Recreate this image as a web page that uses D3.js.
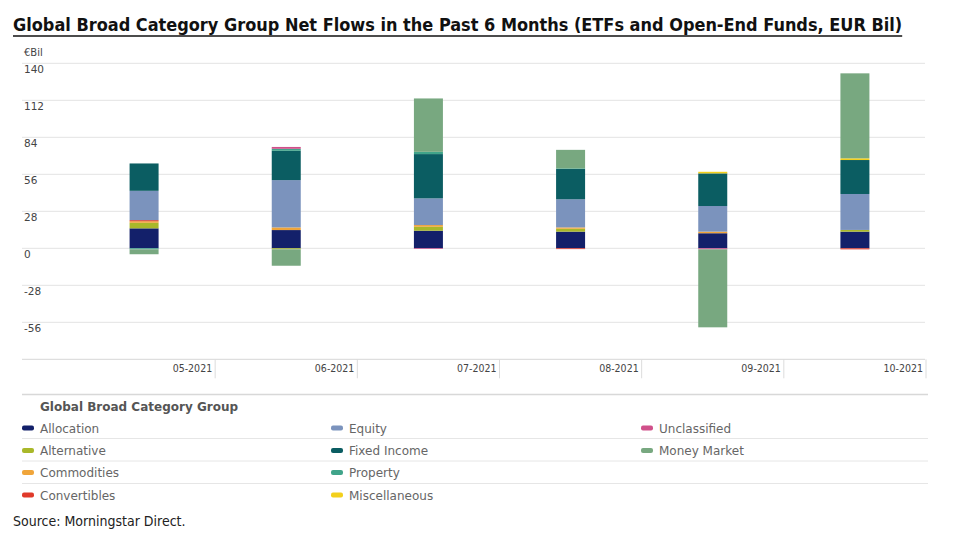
<!DOCTYPE html>
<html>
<head>
<meta charset="utf-8">
<script src="https://cdn.jsdelivr.net/npm/d3@7"></script>
<style>
  body { margin: 0; background: #fff; }
  svg { display: block; }
</style>
</head>
<body>
<div id="chart"></div>
<script>
// months on the x axis
const months = ["05-2021", "06-2021", "07-2021", "08-2021", "09-2021", "10-2021"];

// net flows per category group, EUR bil
const allocation    = [15.1, 13.8, 13.3, 12.6, 11.4, 12.6];
const alternative   = [4.2, -0.8, 3.0, 2.2, 0, 1.3];
const commodities   = [1.2, 2.0, 1.3, 1.0, 1.2, 0];
const convertibles  = [0.8, 0, 0, -0.6, 0, -0.8];
const equity        = [22.2, 35.8, 20.2, 21.3, 19.4, 27.2];
const fixedIncome   = [20.7, 22.2, 33.5, 22.9, 24.7, 25.7];
const property      = [-0.8, 1.5, 1.7, 0.5, 0, 0];
const miscellaneous = [0, 0, 0, 0, 1.2, 1.3];
const unclassified  = [0, 1.4, -0.5, 0, -0.8, 0];
const moneyMarket   = [-3.7, -12.4, 40.4, 14.0, -59.0, 64.3];

const yTicks = [140, 112, 84, 56, 28, 0, -28, -56];

const series = [
  { name: "Allocation", values: allocation, color: "#13206a" },
  { name: "Alternative", values: alternative, color: "#a9b82a" },
  { name: "Commodities", values: commodities, color: "#f0a53a" },
  { name: "Convertibles", values: convertibles, color: "#e03a2a" },
  { name: "Equity", values: equity, color: "#7b93bd" },
  { name: "Fixed Income", values: fixedIncome, color: "#0b5d62" },
  { name: "Property", values: property, color: "#40a48a" },
  { name: "Miscellaneous", values: miscellaneous, color: "#f3d01c" },
  { name: "Unclassified", values: unclassified, color: "#d0508a" },
  { name: "Money Market", values: moneyMarket, color: "#78a880" }
];

const width = 960, height = 535;
const svg = d3.select("#chart").append("svg")
  .attr("width", width)
  .attr("height", height);

// title - shrink font until it fits the reference width
const title = svg.append("text")
  .attr("x", 13).attr("y", 31)
  .attr("font-family", "'Liberation Sans Narrow', 'DejaVu Sans Condensed', sans-serif")
  .attr("font-weight", "bold")
  .attr("font-size", 22)
  .attr("fill", "#111")
  .text("Global Broad Category Group Net Flows in the Past 6 Months (ETFs and Open-End Funds, EUR Bil)");
const tw = title.node().getComputedTextLength();
if (tw > 890) title.attr("font-size", 22 * 890 / tw);
const tw2 = title.node().getComputedTextLength();
svg.append("line")
  .attr("x1", 13).attr("x2", 13 + tw2).attr("y1", 36).attr("y2", 36)
  .attr("stroke", "#111").attr("stroke-width", 1.5);

// scales
const y = d3.scaleLinear().domain([-84, 140]).range([359.3, 63.3]);
const x = d3.scaleBand().domain(months).range([73, 926]);
const barW = 29;

const plotLeft = 22, plotRight = 925;

// gridlines + y labels
svg.append("g").selectAll("line")
  .data(yTicks)
  .join("line")
  .attr("x1", plotLeft).attr("x2", plotRight)
  .attr("y1", d => y(d)).attr("y2", d => y(d))
  .attr("stroke", "#e3e3e3");

svg.append("g").selectAll("text")
  .data(yTicks)
  .join("text")
  .attr("x", 24)
  .attr("y", d => y(d) + 10)
  .attr("font-family", "'DejaVu Sans', sans-serif")
  .attr("font-size", 10.5)
  .attr("fill", "#444")
  .text(d => d);

svg.append("text")
  .attr("x", 24).attr("y", 56)
  .attr("font-family", "'DejaVu Sans', sans-serif")
  .attr("font-size", 10)
  .attr("fill", "#444")
  .text("€Bil");

// bottom axis line
svg.append("line")
  .attr("x1", plotLeft).attr("x2", plotRight)
  .attr("y1", y(-84)).attr("y2", y(-84))
  .attr("stroke", "#d6d6d6");

// month ticks + labels
const xAxis = svg.append("g");
xAxis.selectAll("line")
  .data(months)
  .join("line")
  .attr("x1", d => x(d) + x.bandwidth()).attr("x2", d => x(d) + x.bandwidth())
  .attr("y1", y(-84)).attr("y2", y(-84) + 19)
  .attr("stroke", "#dcdcdc");
xAxis.selectAll("text")
  .data(months)
  .join("text")
  .attr("x", d => x(d) + x.bandwidth() - 3)
  .attr("y", y(-84) + 13)
  .attr("text-anchor", "end")
  .attr("font-family", "'DejaVu Sans Condensed', 'DejaVu Sans', sans-serif")
  .attr("font-size", 10.5)
  .attr("fill", "#444")
  .text(d => d);

// stacked bars
const table = months.map((m, i) => {
  const row = { month: m };
  series.forEach(s => { row[s.name] = s.values[i]; });
  return row;
});
const stacked = d3.stack()
  .keys(series.map(s => s.name))
  .offset(d3.stackOffsetDiverging)(table);

svg.append("g").selectAll("g")
  .data(stacked)
  .join("g")
  .attr("fill", (d, i) => series[i].color)
  .selectAll("rect")
  .data(d => d)
  .join("rect")
  .attr("x", d => x(d.data.month) + x.bandwidth() / 2 - barW / 2)
  .attr("width", barW)
  .attr("y", d => y(Math.max(d[0], d[1])))
  .attr("height", d => Math.abs(y(d[0]) - y(d[1])));

// legend
svg.append("line")
  .attr("x1", 22).attr("x2", 928).attr("y1", 394.5).attr("y2", 394.5)
  .attr("stroke", "#d8d8d8").attr("stroke-width", 1.5);
svg.append("text")
  .attr("x", 40).attr("y", 411)
  .attr("font-family", "'DejaVu Sans', sans-serif")
  .attr("font-weight", "bold")
  .attr("font-size", 12)
  .attr("fill", "#555")
  .text("Global Broad Category Group");

[438.5, 461, 483.5].forEach(ly => {
  svg.append("line")
    .attr("x1", 22).attr("x2", 928).attr("y1", ly).attr("y2", ly)
    .attr("stroke", "#e6e6e6");
});

const colX = [22, 331, 641];
const rowY = [428, 450.5, 472.5, 495];
const legend = svg.append("g").selectAll("g")
  .data(series)
  .join("g")
  .attr("transform", (d, i) => `translate(${colX[Math.floor(i / 4)]},${rowY[i % 4]})`);
legend.append("rect")
  .attr("x", 0).attr("y", -2.5).attr("width", 12).attr("height", 5).attr("rx", 2)
  .attr("fill", d => d.color);
legend.append("text")
  .attr("x", 18).attr("y", 4.5)
  .attr("font-family", "'DejaVu Sans', sans-serif")
  .attr("font-size", 12)
  .attr("fill", "#666")
  .text(d => d.name);

// source note
svg.append("text")
  .attr("x", 13).attr("y", 526)
  .attr("font-family", "'Liberation Sans Narrow', 'DejaVu Sans Condensed', sans-serif")
  .attr("font-size", 14)
  .attr("fill", "#222")
  .text("Source: Morningstar Direct.");
</script>
</body>
</html>
